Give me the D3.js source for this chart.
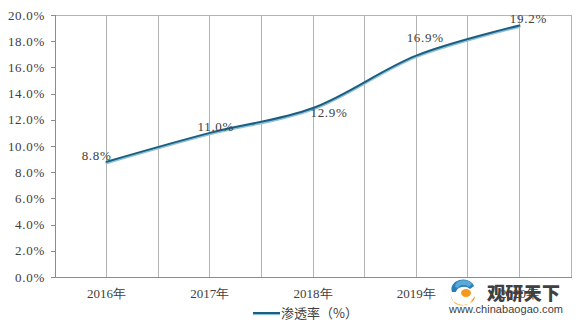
<!DOCTYPE html>
<html><head><meta charset="utf-8">
<script src="https://cdn.jsdelivr.net/npm/d3@7"></script>
<style>
html,body{margin:0;padding:0;background:#fff;}
svg{display:block;}
text{font-family:"Liberation Serif","DejaVu Serif",serif;fill:#404040;}
</style></head>
<body><svg id="c" width="583" height="330"></svg>
<script>
const categories = ["2016年","2017年","2018年","2019年","2020年"];
const penetration = [8.8, 11.0, 12.9, 16.9, 19.2];
const seriesName = "渗透率（%）";
const yTicks = [0,2,4,6,8,10,12,14,16,18,20];

const svg = d3.select("#c");
const L = 55, R = 571, T = 15, B = 277;

const x = d3.scaleBand().domain(categories).range([L, R]);
const y = d3.scaleLinear().domain([0, 20]).range([B, T]);
const cx = d => x(d) + x.bandwidth() / 2;

// vertical gridlines at band centers and band edges
const gridX = [];
categories.forEach(c => { gridX.push(cx(c)); gridX.push(x(c) + x.bandwidth()); });
svg.append("g").selectAll("line").data(gridX).join("line")
  .attr("x1", d => d).attr("x2", d => d).attr("y1", T).attr("y2", B)
  .attr("stroke", "#b4b4b4").attr("stroke-width", 1).attr("shape-rendering", "crispEdges");
svg.append("line").attr("x1", L).attr("x2", R).attr("y1", T).attr("y2", T)
  .attr("stroke", "#b4b4b4").attr("shape-rendering", "crispEdges");

// y axis
const yAxis = d3.axisLeft(y).tickValues(yTicks).tickSize(4).tickPadding(6)
  .tickFormat(d => d3.format(".1f")(d) + "%");
const gy = svg.append("g").attr("transform", `translate(${L},0)`).call(yAxis);
gy.select(".domain").attr("stroke", "#8c8c8c").attr("shape-rendering", "crispEdges");
gy.selectAll(".tick line").attr("stroke", "#8c8c8c").attr("shape-rendering", "crispEdges");
gy.selectAll("text").style("font-size", "13px").style("font-family", "Liberation Serif")
  .style("letter-spacing", "0.7px").attr("fill", "#404040");

// x axis
const xAxis = d3.axisBottom(x).tickSize(0).tickPadding(12);
const gx = svg.append("g").attr("transform", `translate(0,${B})`).call(xAxis);
gx.select(".domain").attr("stroke", "#8c8c8c").attr("shape-rendering", "crispEdges");
gx.selectAll("text").style("font-size", "13px").style("font-family", "Liberation Serif").attr("fill", "#404040");

// line
const line = d3.line().x((d, i) => cx(categories[i])).y(d => y(d)).curve(d3.curveCatmullRom.alpha(0.5));
svg.append("path").datum(penetration).attr("d", line)
  .attr("transform", "translate(0,1.3)")
  .attr("fill", "none").attr("stroke", "#8fc1d9").attr("stroke-width", 2.4).attr("stroke-linecap", "round");
svg.append("path").datum(penetration).attr("d", line)
  .attr("fill", "none").attr("stroke", "#1b5f80").attr("stroke-width", 2).attr("stroke-linecap", "round");

// data labels
const labelOffset = [[-10, -2], [6, -2], [16, 8.5], [9, -13.5], [9, -2]];
svg.append("g").selectAll("text").data(penetration).join("text")
  .attr("x", (d, i) => cx(categories[i]) + labelOffset[i][0])
  .attr("y", (d, i) => y(d) + labelOffset[i][1])
  .attr("text-anchor", "middle")
  .style("font-size", "13px").style("letter-spacing", "0.7px")
  .text(d => d3.format(".1f")(d) + "%");

// legend
const lg = svg.append("g").attr("transform", "translate(253,313)");
lg.append("line").attr("x1", 0).attr("x2", 27).attr("y1", 1).attr("y2", 1)
  .attr("stroke", "#8fc1d9").attr("stroke-width", 2.4);
lg.append("line").attr("x1", 0).attr("x2", 27).attr("y1", 0).attr("y2", 0)
  .attr("stroke", "#1b5f80").attr("stroke-width", 2);
lg.append("text").attr("x", 28).attr("y", 5).style("font-size", "13px")
  .style("font-family", "'Noto Sans CJK SC'").text(seriesName);

// watermark logo
const wm = svg.append("g");
wm.append("path").attr("d", "M452,292 A11,9 0 0 1 474,286 L470,289 A8,6 0 0 0 456,292 Z").attr("fill", "#2a7fb8");
wm.append("path").attr("d", "M455,287 A9,7 0 0 1 472,284 L469,287 A6,4 0 0 0 458,288 Z").attr("fill", "#5aa9d8");
wm.append("path").attr("d", "M451,296 A12,9 0 0 0 475,296 L472,300 A10,7 0 0 1 453,301 Z").attr("fill", "#f39a1e");
wm.append("path").attr("d", "M461,293 A5,4 0 0 1 471,293 A5,4 0 0 1 461,293 Z").attr("fill", "#f39a1e");
wm.append("text").attr("x", 487).attr("y", 300).style("font-family", "'Noto Sans CJK SC'")
  .style("font-size", "18px").style("font-weight", "900").attr("fill", "#1a1a1a").attr("textLength", 73)
  .text("观研天下");
wm.append("text").attr("x", 449).attr("y", 313).style("font-family", "'Liberation Sans'")
  .style("font-size", "11px").attr("fill", "#333").attr("textLength", 114)
  .text("www.chinabaogao.com");
</script></body></html>
